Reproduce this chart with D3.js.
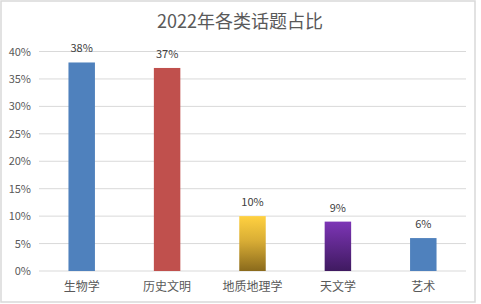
<!DOCTYPE html>
<html>
<head>
<meta charset="utf-8">
<script src="https://cdn.jsdelivr.net/npm/d3@7/dist/d3.min.js"></script>
<style>
  body { margin: 0; background: #fff; }
  text { font-family: "Noto Sans CJK SC", "Noto Sans", sans-serif; }
</style>
</head>
<body>
<div id="chart"></div>
<script>
var categories = ['生物学', '历史文明', '地质地理学', '天文学', '艺术'];
var values = [0.38, 0.37, 0.10, 0.09, 0.06];
var yTicks = [0, 0.05, 0.10, 0.15, 0.20, 0.25, 0.30, 0.35, 0.40];
var title = '2022年各类话题占比';

var width = 481, height = 304;
var plotLeft = 39, plotRight = 466, plotTop = 51.5, plotBottom = 271;

var svg = d3.select('#chart').append('svg')
  .attr('width', width)
  .attr('height', height)

// gradients for the two fancy bars
var defs = svg.append('defs');
var gold = defs.append('linearGradient').attr('id', 'gold')
  .attr('x1', 0).attr('y1', 0).attr('x2', 0).attr('y2', 1);
gold.append('stop').attr('offset', '0%').attr('stop-color', '#ffd140');
gold.append('stop').attr('offset', '45%').attr('stop-color', '#d9ad35');
gold.append('stop').attr('offset', '100%').attr('stop-color', '#8a6a1c');
var purple = defs.append('linearGradient').attr('id', 'purple')
  .attr('x1', 0).attr('y1', 0).attr('x2', 0).attr('y2', 1);
purple.append('stop').attr('offset', '0%').attr('stop-color', '#7d35b6');
purple.append('stop').attr('offset', '100%').attr('stop-color', '#3f1a60');

var fills = ['#4f81bd', '#c0504d', 'url(#gold)', 'url(#purple)', '#4f81bd'];

// outer border
svg.append('rect')
  .attr('x', 1).attr('y', 1)
  .attr('width', 474).attr('height', 301)
  .attr('fill', 'none')
  .attr('stroke', '#d9d9d9')
  .attr('stroke-width', 1.5)

var x = d3.scaleBand().domain(categories).range([plotLeft, plotRight]).paddingInner(0.69).paddingOuter(0.345);
var y = d3.scaleLinear().domain([0, 0.4]).range([plotBottom, plotTop]);

// gridlines
svg.append('g').selectAll('line').data(yTicks).enter().append('line')
  .attr('x1', plotLeft).attr('x2', plotRight)
  .attr('y1', function(d){ return y(d); })
  .attr('y2', function(d){ return y(d); })
  .attr('stroke', '#d9d9d9')
  .attr('stroke-width', 1)

// y axis labels
var yAxis = d3.axisLeft(y).tickValues(yTicks).tickSize(0).tickPadding(8)
  .tickFormat(d3.format('.0%'));
var gy = svg.append('g').attr('transform', 'translate(' + plotLeft + ',0)').call(yAxis);
gy.select('.domain').remove();
gy.selectAll('text')
  .attr('fill', '#595959')
  .style('font-size', '11px')

// bars
svg.append('g').selectAll('rect').data(values).enter().append('rect')
  .attr('x', function(d, i){ return x(categories[i]); })
  .attr('y', function(d){ return y(d); })
  .attr('width', x.bandwidth())
  .attr('height', function(d){ return plotBottom - y(d); })
  .attr('fill', function(d, i){ return fills[i]; })

// value labels
svg.append('g').selectAll('text').data(values).enter().append('text')
  .attr('x', function(d, i){ return x(categories[i]) + x.bandwidth() / 2; })
  .attr('y', function(d){ return y(d) - 10; })
  .attr('text-anchor', 'middle')
  .attr('fill', '#404040')
  .style('font-size', '11px')
  .text(function(d){ return Math.round(d * 100) + '%'; })

// category labels
var xAxis = d3.axisBottom(x).tickSize(0).tickPadding(11);
var gx = svg.append('g').attr('transform', 'translate(0,' + plotBottom + ')').call(xAxis);
gx.select('.domain').remove();
gx.selectAll('text')
  .attr('fill', '#595959')
  .style('font-size', '12px')

// title
svg.append('text')
  .attr('x', 240).attr('y', 28)
  .attr('text-anchor', 'middle')
  .attr('fill', '#595959')
  .style('font-size', '18px')
  .text(title)
</script>
</body>
</html>
